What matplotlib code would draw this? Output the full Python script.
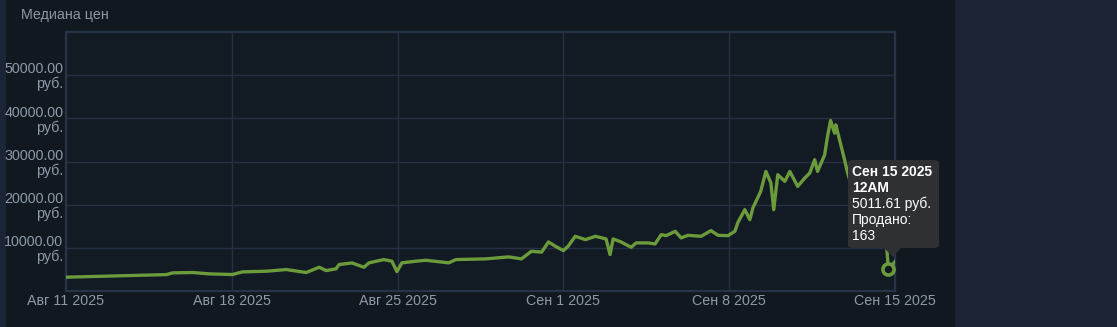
import matplotlib
matplotlib.use('Agg')
import matplotlib.pyplot as plt
import pandas as pd
from matplotlib.patches import Rectangle, FancyBboxPatch, Polygon

plt.rcParams['font.family'] = ['Liberation Sans', 'DejaVu Sans']

# data: days since Aug 11 2025 and median price (руб.)
day_offsets = [0.0, 4.24, 4.5, 5.35, 6.06, 7.03, 7.45, 8.46, 9.3, 10.14, 10.69, 10.98,
               11.4, 11.53, 12.08, 12.58, 12.79, 13.42, 13.76, 13.97, 14.18, 14.77,
               15.19, 16.16, 16.46, 17.72, 18.69, 19.23, 19.65, 20.08, 20.37, 20.66,
               21.0, 21.2, 21.5, 21.93, 22.35, 22.8, 22.97, 23.1, 23.44, 23.86, 24.07,
               24.58, 24.87, 25.13, 25.34, 25.72, 25.97, 26.26, 26.81, 27.23, 27.53,
               27.95, 28.24, 28.37, 28.66, 28.87, 29.0, 29.33, 29.55, 29.76, 29.88,
               30.05, 30.35, 30.56, 30.89, 31.19, 31.4, 31.61, 31.73, 32.03, 32.15,
               32.28, 32.45, 32.5, 32.66, 32.87, 33.0, 33.4, 34.05, 34.6, 34.72, 35.0]
prices = [3200, 3800, 4200, 4280, 3970, 3815, 4430, 4580, 4970, 4280, 5500, 4740,
          5130, 6130, 6500, 5500, 6520, 7280, 6900, 4500, 6520, 6900,
          7120, 6520, 7280, 7440, 7900, 7440, 9200, 9000, 11370, 10360,
          9360, 10360, 12670, 11900, 12670, 12070, 8440, 12070, 11340, 10130, 11140,
          11140, 10900, 13060, 12830, 13830, 12300, 12900, 12670, 13990, 12900,
          12830, 13830, 15900, 18840, 16530, 19240, 23080, 27700, 25020, 18840,
          26940, 25400, 27700, 24230, 26170, 27320, 30400, 27700, 31560, 35790,
          39490, 36560, 38500, 35030, 30400, 27330, 20000, 13000, 14000, 5011.61, 6800]
hover_index = len(prices) - 2
hover_lines = ['Сен 15 2025', '12AM', '5011.61 руб.', 'Продано:', '163']

tick_dates = ['2025-08-11', '2025-08-18', '2025-08-25', '2025-09-01', '2025-09-08', '2025-09-15']
tick_labels = ['Авг 11 2025', 'Авг 18 2025', 'Авг 25 2025', 'Сен 1 2025', 'Сен 8 2025', 'Сен 15 2025']
y_ticks = [10000, 20000, 30000, 40000, 50000]

start = pd.Timestamp('2025-08-11')
times = start + pd.to_timedelta(day_offsets, unit='D')

W, H = 1117, 327
fig = plt.figure(figsize=(W / 100, H / 100), dpi=100)
fig.patch.set_facecolor('#1b2535')
fig.patches.append(Rectangle((6 / W, 0), 949 / W, 1, transform=fig.transFigure,
                             facecolor='#111820', edgecolor='none', zorder=-5))

ax = fig.add_axes([66 / W, 1 - 291 / H, 829 / W, 259 / H])
ax.set_facecolor('#121a24')
ax.plot(times, prices, color='#6c9b3c', lw=2.4, solid_joinstyle='round', zorder=3)
ax.plot(times[hover_index], prices[hover_index], 'o', ms=8, mfc='#111820',
        mec='#6c9b3c', mew=2.6, zorder=4, clip_on=False)

ax.set_xlim(pd.Timestamp(tick_dates[0]), pd.Timestamp(tick_dates[-1]))
ax.set_ylim(0, 60000)
ax.set_xticks(pd.to_datetime(tick_dates))
ax.set_xticklabels(tick_labels)
ax.set_yticks(y_ticks)
ax.set_yticklabels([f'{v:.2f}\nруб.' for v in y_ticks], multialignment='right',
                   linespacing=1.05)
ax.tick_params(length=0, colors='#8d9aa8', labelsize=10.3)
ax.tick_params(axis='x', pad=2)
ax.tick_params(axis='y', pad=2)
ax.grid(True, color='#253244', lw=1)
for s in ax.spines.values():
    s.set_color('#263445')
    s.set_linewidth(1.6)

fig.text(21 / W, 1 - 15 / H, 'Медиана цен', color='#8f98a0', fontsize=10.3,
         ha='left', va='center')

# tooltip
fig.patches.append(FancyBboxPatch((848 / W, 1 - 248 / H), 91 / W, 88 / H,
                                  boxstyle='round,pad=0,rounding_size=0.006',
                                  transform=fig.transFigure, facecolor='#2f3033',
                                  edgecolor='none', zorder=5))
fig.patches.append(Polygon([(884 / W, 1 - 248 / H), (901 / W, 1 - 248 / H),
                            (893 / W, 1 - 257 / H)], closed=True,
                           transform=fig.transFigure, facecolor='#2f3033',
                           edgecolor='none', zorder=5))
for i, line in enumerate(hover_lines):
    fig.text(852 / W, 1 - (172 + 16 * i) / H, line, color='white', fontsize=10,
             fontweight='bold' if i < 2 else 'normal', ha='left', va='center', zorder=6)

fig.savefig('out.png', dpi=100, facecolor=fig.get_facecolor())
